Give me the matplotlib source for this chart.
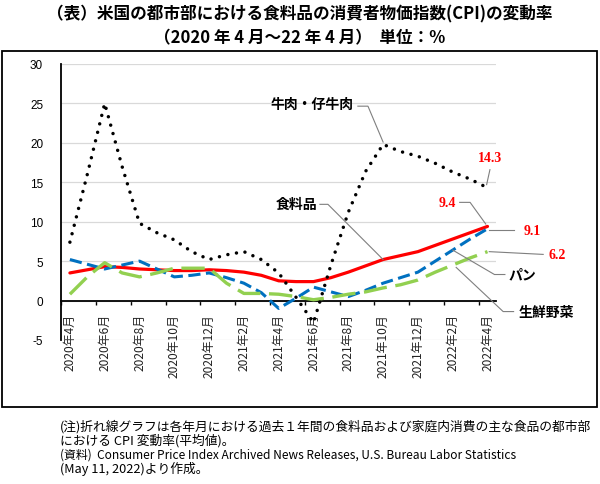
import matplotlib
matplotlib.use('Agg')
import numpy as np
from matplotlib import pyplot as plt
from matplotlib.patches import Rectangle

JP = 'Noto Sans CJK JP'
plt.rcParams['font.family'] = [JP, 'DejaVu Sans']

months = [
    '2020年4月', '2020年5月', '2020年6月', '2020年7月', '2020年8月', '2020年9月',
    '2020年10月', '2020年11月', '2020年12月', '2021年1月', '2021年2月', '2021年3月',
    '2021年4月', '2021年5月', '2021年6月', '2021年7月', '2021年8月', '2021年9月',
    '2021年10月', '2021年11月', '2021年12月', '2022年1月', '2022年2月', '2022年3月',
    '2022年4月',
]
food = [3.5, 3.9, 4.3, 4.2, 4.0, 3.9, 3.8, 3.8, 3.9, 3.8, 3.6, 3.2, 2.5,
        2.4, 2.4, 2.9, 3.6, 4.4, 5.2, 5.7, 6.2, 7.0, 7.8, 8.6, 9.4]
beef = [7.4, 16.0, 25.0, 17.0, 9.8, 8.6, 7.7, 6.2, 5.2, 5.8, 6.2, 5.2, 3.5,
        0.4, -2.8, 4.5, 11.2, 16.4, 19.8, 18.9, 18.3, 17.4, 16.3, 15.4, 14.3]
bread = [5.2, 4.6, 4.0, 4.5, 5.0, 4.0, 3.0, 3.2, 3.5, 2.9, 2.2, 1.0, -1.0,
         0.3, 1.7, 1.1, 0.5, 1.3, 2.2, 2.9, 3.6, 5.0, 6.4, 7.8, 9.1]
veg = [0.8, 3.0, 4.8, 3.5, 3.0, 3.5, 4.1, 4.1, 4.1, 2.2, 0.9, 0.9, 0.8,
       0.5, 0.1, 0.4, 0.8, 1.1, 1.6, 2.0, 2.6, 3.6, 4.5, 5.4, 6.2]
y_ticks = [-5, 0, 5, 10, 15, 20, 25, 30]

title1 = '（表）米国の都市部における食料品の消費者物価指数(CPI)の変動率'
title2 = '（2020 年 4 月～22 年 4 月）  単位：%'
notes = [
    '(注)折れ線グラフは各年月における過去１年間の食料品および家庭内消費の主な食品の都市部',
    'における CPI 変動率(平均値)。',
    '(資料)  Consumer Price Index Archived News Releases, U.S. Bureau Labor Statistics',
    '(May 11, 2022)より作成。',
]

fig = plt.figure(figsize=(6, 4.85), dpi=100)
ax = fig.add_axes([0.102, 0.297, 0.725, 0.569])
x = np.arange(len(months))

ax.plot(x, food, color='#FF0000', lw=2.3, solid_capstyle='round', zorder=3)
ax.plot(x, bread, color='#0070C0', lw=2.2, linestyle=(0, (4, 1.8)), zorder=3)
ax.plot(x, veg, color='#92D050', lw=2.4, linestyle=(0, (7, 2.6)), zorder=3)
ax.plot(x, beef, color='black', lw=2.5, linestyle=(0, (0.01, 2.5)),
        dash_capstyle='round', zorder=4)

# spine position first: moving it resets the tick setup
for side in ('top', 'right'):
    ax.spines[side].set_visible(False)
ax.spines['left'].set_linewidth(1.3)
ax.spines['bottom'].set_linewidth(1.3)
ax.spines['bottom'].set_position(('data', 0))

ax.set_xlim(-0.5, 24.5)
ax.set_ylim(-5, 30)
ax.set_yticks(y_ticks)
ax.set_yticklabels([str(v) for v in y_ticks], fontfamily='Liberation Sans', fontsize=8.5)
ax.tick_params(axis='y', length=0, pad=13)
ax.yaxis.grid(True, color='#D9D9D9', lw=0.9)
ax.set_axisbelow(True)

ax.set_xticks(x[::2])
ax.set_xticklabels(months[::2], rotation=90, fontsize=8.6, color='#222222')
ax.set_xticks(np.arange(-0.5, 25, 2), minor=True)
ax.tick_params(axis='x', which='major', length=0, pad=9)
ax.tick_params(axis='x', which='minor', length=3, width=1, direction='out')


def leader(xs, ys):
    ax.plot(xs, ys, color='#7F7F7F', lw=0.8, clip_on=False, zorder=5)


# series names
ax.text(13.9, 24.9, '牛肉・仔牛肉', fontsize=10, fontweight='bold', ha='center', va='center')
leader([16.55, 17.13, 18], [24.65, 24.65, beef[18] + 0.3])
ax.text(14.2, 12.2, '食料品', fontsize=10, fontweight='bold', ha='right', va='center')
leader([14.37, 14.83, 18], [12.2, 12.2, food[18]])
ax.text(26.0, 3.3, 'パン', fontsize=10, fontweight='bold', ha='center', va='center')
leader([25.0, 24.4, 22], [3.3, 3.3, bread[22]])
ax.text(27.4, -1.4, '生鮮野菜', fontsize=10, fontweight='bold', ha='center', va='center')
leader([25.5, 24.9, 22.2], [-1.4, -1.4, veg[22] - 0.3])

# end values
num = dict(fontsize=10, fontweight='bold', color='#FF0000', fontfamily='Liberation Serif',
           ha='center', va='center')
ax.text(24.14, 18.2, f'{beef[-1]:.1f}', **num)
leader([24.14, 23.95], [16.6, beef[-1] + 0.4])
ax.text(21.7, 12.45, f'{food[-1]:.1f}', **num)
leader([22.4, 23.0, 23.9], [12.45, 12.45, food[-1] + 0.3])
ax.text(26.55, 8.9, f'{bread[-1]:.1f}', **num)
leader([25.5, 24.1], [9.0, 9.0])
ax.text(28.0, 5.85, f'{veg[-1]:.1f}', **num)
leader([27.2, 24.1], [5.85, veg[-1]])

fig.add_artist(Rectangle((2 / 600, 1 - 408 / 485), 595 / 600, 356 / 485,
                         transform=fig.transFigure, fill=False, ec='black', lw=1.3))

fig.text(0.5, 1 - 14 / 485, title1, fontsize=12, fontweight='bold', ha='center', va='center')
fig.text(0.5, 1 - 38 / 485, title2, fontsize=12, fontweight='bold', ha='center', va='center')

for i, line in enumerate(notes):
    size = 8.6 if i == 2 else 9.2
    fig.text(60 / 600, 1 - (427 + 14 * i) / 485, line, fontsize=size,
             ha='left', va='center')

fig.savefig('out.png', dpi=100)
